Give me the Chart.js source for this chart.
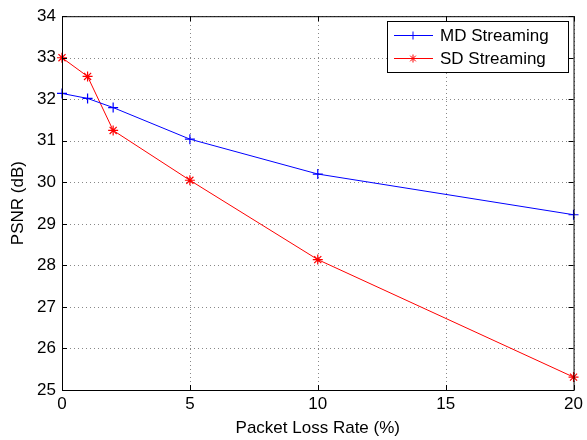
<!DOCTYPE html>
<html>
<head>
<meta charset="utf-8">
<script src="https://cdn.jsdelivr.net/npm/chart.js@4/dist/chart.umd.min.js"></script>
<style>
  html, body { margin: 0; padding: 0; background: #fff; }
  #wrap { width: 587px; height: 440px; }
</style>
</head>
<body>
<div id="wrap"><canvas id="c" width="587" height="440"></canvas></div>
<script>
// packet loss rates (%)
const lossRates = [0, 1, 2, 5, 10, 20];
// PSNR values (dB)
const mdPsnr = [32.14, 32.02, 31.8, 31.04, 30.2, 29.22];
const sdPsnr = [33.0, 32.55, 31.25, 30.05, 28.14, 25.31];
const xTicks = [0, 5, 10, 15, 20];
const yTicks = [25, 26, 27, 28, 29, 30, 31, 32, 33, 34];

const FONT = 'Liberation Sans, Arial, Helvetica, sans-serif';

// dotted grid drawn under the lines, like MATLAB's "grid on"
const dottedGrid = {
  id: 'dottedGrid',
  beforeDatasetsDraw(chart) {
    const { ctx, chartArea: a, scales } = chart;
    ctx.save();
    ctx.strokeStyle = '#888';
    ctx.lineWidth = 1;
    ctx.setLineDash([1, 3]);
    ctx.beginPath();
    xTicks.forEach(v => {
      const x = Math.round(scales.x.getPixelForValue(v)) + 0.5;
      ctx.moveTo(x, a.bottom); ctx.lineTo(x, a.top);
    });
    yTicks.forEach(v => {
      const y = Math.round(scales.y.getPixelForValue(v)) + 0.5;
      ctx.moveTo(a.left, y); ctx.lineTo(a.right, y);
    });
    ctx.stroke();
    ctx.restore();
  }
};

// box on all sides, inward ticks, legend in the top-right corner
const matlabFrame = {
  id: 'matlabFrame',
  afterDraw(chart) {
    const { ctx, chartArea: a, scales } = chart;
    ctx.save();
    ctx.strokeStyle = '#000';
    ctx.lineWidth = 1;
    ctx.setLineDash([]);
    ctx.strokeRect(a.left + 0.5, a.top + 0.5, a.right - a.left, a.bottom - a.top);
    const t = 5;
    ctx.beginPath();
    xTicks.forEach(v => {
      const x = Math.round(scales.x.getPixelForValue(v)) + 0.5;
      ctx.moveTo(x, a.bottom); ctx.lineTo(x, a.bottom - t);
      ctx.moveTo(x, a.top); ctx.lineTo(x, a.top + t);
    });
    yTicks.forEach(v => {
      const y = Math.round(scales.y.getPixelForValue(v)) + 0.5;
      ctx.moveTo(a.left, y); ctx.lineTo(a.left + t, y);
      ctx.moveTo(a.right, y); ctx.lineTo(a.right - t, y);
    });
    ctx.stroke();

    // legend box
    const bx = 387, by = 21, bw = 181, bh = 51;
    ctx.fillStyle = '#fff';
    ctx.fillRect(bx, by, bw, bh);
    ctx.strokeRect(bx + 0.5, by + 0.5, bw, bh);
    ctx.font = '17px ' + FONT;
    ctx.textBaseline = 'middle';
    chart.data.datasets.forEach((ds, i) => {
      const y = by + 14 + i * 23;
      ctx.strokeStyle = ds.borderColor;
      ctx.fillStyle = ds.borderColor;
      ctx.beginPath();
      ctx.moveTo(bx + 7, y + 0.5);
      ctx.lineTo(bx + 46, y + 0.5);
      ctx.stroke();
      Chart.helpers.drawPoint(ctx, {
        pointStyle: ds.pointStyle, radius: 4, rotation: 0, borderWidth: 1
      }, bx + 26, y + 0.5);
      ctx.fillStyle = '#000';
      ctx.fillText(ds.label, bx + 53, y + 1);
    });
    ctx.restore();
  }
};

new Chart(document.getElementById('c'), {
  type: 'line',
  data: {
    datasets: [
      {
        label: 'MD Streaming',
        data: lossRates.map((x, i) => ({ x, y: mdPsnr[i] })),
        borderColor: '#0000ff',
        backgroundColor: '#0000ff',
        borderWidth: 1,
        pointStyle: 'cross',
        pointRadius: 5,
        pointBorderWidth: 1.2,
        tension: 0
      },
      {
        label: 'SD Streaming',
        data: lossRates.map((x, i) => ({ x, y: sdPsnr[i] })),
        borderColor: '#ff0000',
        backgroundColor: '#ff0000',
        borderWidth: 1,
        pointStyle: 'star',
        pointRadius: 5,
        pointBorderWidth: 1.2,
        tension: 0
      }
    ]
  },
  options: {
    responsive: false,
    animation: false,
    clip: false,
    layout: { padding: { left: 0, right: 13, top: 14, bottom: 0 } },
    plugins: {
      legend: { display: false },
      tooltip: { enabled: false }
    },
    scales: {
      x: {
        type: 'linear',
        min: 0,
        max: 20,
        afterBuildTicks: s => { s.ticks = xTicks.map(v => ({ value: v })); },
        afterFit: s => { s.height = 50; },
        grid: { display: false, drawTicks: false },
        border: { display: false },
        ticks: {
          color: '#000',
          padding: 4,
          font: { family: FONT, size: 17 },
          maxRotation: 0
        },
        title: {
          display: true,
          text: 'Packet Loss Rate (%)',
          color: '#000',
          font: { family: FONT, size: 17 },
          padding: { top: 0, bottom: 1 }
        }
      },
      y: {
        type: 'linear',
        min: 25,
        max: 34,
        afterBuildTicks: s => { s.ticks = yTicks.map(v => ({ value: v })); },
        afterFit: s => { s.width = 62; },
        grid: { display: false, drawTicks: false },
        border: { display: false },
        ticks: {
          color: '#000',
          padding: 6,
          font: { family: FONT, size: 17 }
        },
        title: {
          display: true,
          text: 'PSNR (dB)',
          color: '#000',
          font: { family: FONT, size: 17 },
          padding: { top: 8, bottom: 0 }
        }
      }
    }
  },
  plugins: [dottedGrid, matlabFrame]
});
</script>
</body>
</html>
